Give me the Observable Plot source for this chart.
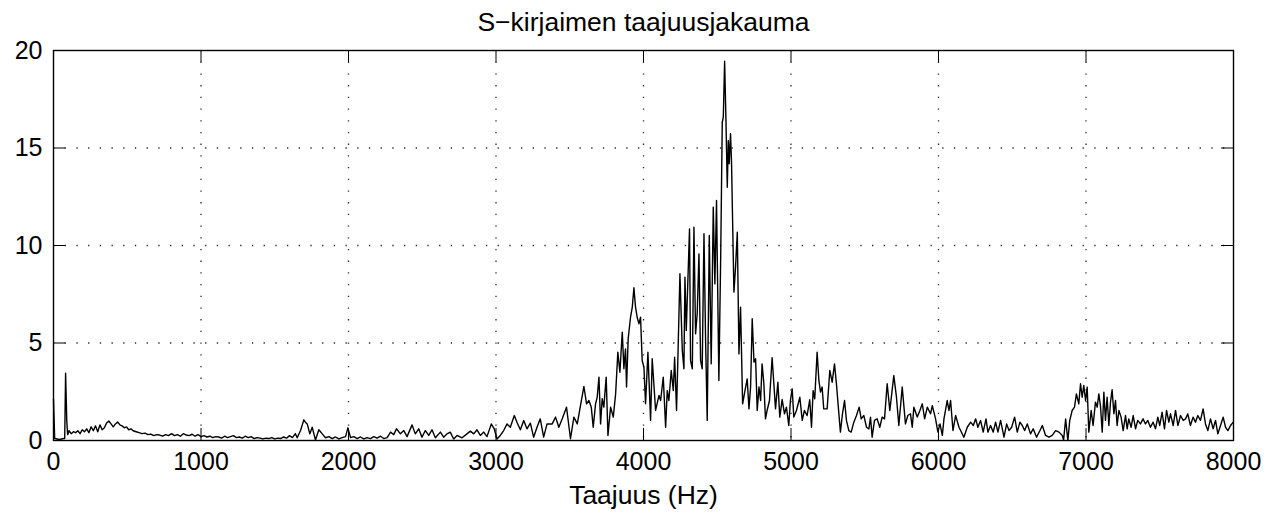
<!DOCTYPE html>
<html>
<head>
<meta charset="utf-8">
<script src="https://cdn.jsdelivr.net/npm/d3@7"></script>
<script src="https://cdn.jsdelivr.net/npm/@observablehq/plot@0.6"></script>
<style>
  html, body { margin: 0; padding: 0; background: #fff; }
  #chart svg { display: block; }
</style>
</head>
<body>
<div id="chart"></div>
<script>
const titleText = "S\u2212kirjaimen taajuusjakauma";
const xLabel = "Taajuus (Hz)";
const xTicks = [0, 1000, 2000, 3000, 4000, 5000, 6000, 7000, 8000];
const yTicks = [0, 5, 10, 15, 20];

const freq = [
  0, 8, 40, 70, 76, 82, 90, 96, 105, 120, 135, 150, 165, 180, 195, 210, 225, 240, 255, 270, 285, 300,
  315, 330, 345, 360, 375, 390, 405, 420, 435, 450, 465, 480, 495, 510, 525, 540, 560, 580, 600, 620,
  640, 660, 680, 700, 720, 740, 760, 780, 800, 820, 840, 860, 880, 900, 920, 940, 960, 980, 1000,
  1020, 1040, 1060, 1080, 1100, 1120, 1140, 1160, 1180, 1200, 1220, 1240, 1260, 1280, 1300, 1320,
  1340, 1360, 1380, 1400, 1420, 1440, 1460, 1480, 1500, 1520, 1540, 1560, 1580, 1600, 1620, 1640,
  1652, 1675, 1697, 1708, 1720, 1738, 1754, 1776, 1799, 1822, 1844, 1867, 1890, 1912, 1935, 1957,
  1980, 1996, 2014, 2036, 2059, 2081, 2104, 2126, 2149, 2172, 2194, 2217, 2239, 2262, 2285, 2307,
  2325, 2352, 2375, 2397, 2431, 2453, 2476, 2498, 2521, 2544, 2566, 2589, 2623, 2645, 2668, 2690,
  2713, 2736, 2770, 2803, 2826, 2849, 2871, 2894, 2917, 2939, 2968, 2988, 3007, 3029, 3052, 3075,
  3097, 3124, 3142, 3165, 3188, 3210, 3233, 3255, 3278, 3300, 3323, 3346, 3368,
  3381, 3404, 3426, 3449, 3478, 3505, 3528, 3551, 3573, 3596, 3614, 3630, 3646, 3659, 3675, 3686,
  3698, 3709, 3720, 3731, 3747, 3759, 3777, 3795, 3811, 3826, 3840, 3856, 3867, 3878, 3885, 3896,
  3912, 3924, 3935, 3946, 3957, 3969, 3980, 3991, 4003, 4014, 4030, 4048,
  4059, 4082, 4105, 4116, 4134, 4150, 4161, 4172, 4188, 4202, 4211, 4224, 4233, 4247, 4263, 4274,
  4281, 4290, 4312, 4319, 4331, 4342, 4353, 4364, 4376, 4387, 4398, 4410, 4421, 4432, 4446, 4459,
  4473, 4484, 4495, 4511, 4523, 4534, 4541, 4550, 4559, 4568, 4575, 4581, 4590, 4597, 4613, 4624,
  4636, 4647, 4658, 4672, 4688, 4703, 4715, 4726, 4737, 4749, 4760, 4771, 4783, 4794,
  4804, 4816, 4827, 4838, 4854, 4872, 4895, 4911, 4924, 4940, 4956, 4969, 4985, 4996, 5008, 5019,
  5037, 5060, 5076, 5091, 5109, 5127, 5139, 5150, 5161, 5177, 5189, 5200, 5211, 5222, 5245, 5263,
  5279, 5295, 5308, 5320, 5335, 5349, 5363, 5376, 5392, 5408, 5426, 5444, 5462, 5476, 5494, 5512,
  5528, 5539, 5550, 5566, 5584, 5602, 5618, 5634, 5652, 5670, 5697, 5715, 5731, 5754, 5776, 5792,
  5810, 5822, 5833, 5856, 5874, 5890, 5906, 5924, 5946, 5958, 5980, 5996, 6010, 6026, 6037, 6059,
  6071, 6082, 6098, 6116, 6139, 6150, 6172, 6195, 6218, 6236, 6252, 6267, 6285, 6303, 6322, 6335,
  6353, 6371, 6387, 6403, 6421, 6444, 6462, 6478, 6496, 6516, 6534, 6552, 6568, 6584, 6602, 6624,
  6642, 6665, 6688, 6704, 6726, 6749, 6771, 6794, 6817, 6839, 6848, 6862, 6877,
  6890, 6906, 6922, 6935, 6951, 6963, 6974, 6985, 6997, 7008, 7019, 7035, 7048, 7064, 7076, 7087,
  7098, 7110, 7121, 7132, 7143, 7155, 7166, 7177, 7189, 7200, 7211, 7223, 7238, 7252, 7268, 7279,
  7290, 7306, 7320, 7336, 7351, 7369, 7387, 7403, 7419, 7437, 7455, 7471, 7487, 7500, 7516, 7532,
  7546, 7562, 7573, 7591, 7607, 7623, 7641, 7659, 7675, 7690, 7708, 7726, 7742, 7758, 7776, 7794,
  7810, 7826, 7844, 7862, 7878, 7894, 7912, 7930, 7946, 7962, 7980, 7998
];

const mag = [
  2.1, 0.1, 0.05, 0.1, 0.1, 3.45, 1.0, 0.3, 0.5, 0.35, 0.45, 0.4, 0.5, 0.35, 0.55, 0.45, 0.6, 0.4, 0.7, 0.5, 0.75, 0.45,
  0.8, 0.55, 0.65, 0.9, 1.0, 0.85, 0.7, 0.85, 0.95, 0.8, 0.75, 0.65, 0.7, 0.55, 0.6, 0.5, 0.45, 0.4, 0.35, 0.38,
  0.3, 0.33, 0.25, 0.3, 0.28, 0.22, 0.3, 0.25, 0.35, 0.25, 0.3, 0.22, 0.35, 0.28, 0.25, 0.32, 0.22, 0.3, 0.2,
  0.25, 0.18, 0.22, 0.15, 0.2, 0.18, 0.12, 0.22, 0.15, 0.2, 0.25, 0.15, 0.18, 0.12, 0.22, 0.15,
  0.2, 0.1, 0.15, 0.12, 0.08, 0.12, 0.1, 0.15, 0.08, 0.12, 0.1, 0.18, 0.12, 0.25, 0.15, 0.35,
  0.14, 0.51, 1.06, 0.94, 0.85, 0.34, 0.68, 0.03, 0.55, 0.34, 0.14, 0.2, 0.1, 0.18, 0.08, 0.15,
  0.2, 0.65, 0.15, 0.2, 0.1, 0.18, 0.08, 0.15, 0.1, 0.2, 0.12, 0.22, 0.1, 0.15, 0.43, 0.3,
  0.6, 0.34, 0.51, 0.2, 0.8, 0.34, 0.6, 0.17, 0.51, 0.26, 0.55, 0.14, 0.43, 0.17, 0.34, 0.43,
  0.08, 0.26, 0.14, 0.34, 0.48, 0.34, 0.55, 0.26, 0.43, 0.2, 0.85, 0.6, 0.08, 0.26, 0.51, 0.85,
  0.68, 1.28, 0.94, 0.55, 1.03, 0.6, 0.89, 0.17, 0.68, 1.11, 0.17, 0.85, 0.85,
  0.85, 1.2, 0.68, 1.11, 1.71, 0.09, 1.2, 0.85, 1.8, 2.77, 1.88, 2.05, 1.71, 0.68, 1.88, 2.22,
  3.25, 0.85, 2.14, 1.71, 3.25, 0.26, 1.71, 1.2, 2.39, 4.53, 3.5, 5.56, 3.68, 4.7, 2.74, 5.21,
  6.32, 6.84, 7.83, 6.84, 6.32, 5.98, 6.32, 4.1, 3.76, 1.88, 4.53, 1.03,
  4.19, 1.54, 2.31, 2.05, 3.25, 0.68, 2.56, 2.05, 3.59, 2.56, 4.27, 1.54, 4.19, 8.55, 4.62, 3.68,
  8.38, 5.64, 10.85, 4.1, 3.68, 10.94, 5.47, 6.5, 9.57, 4.1, 3.68, 10.6, 5.13, 1.03, 10.51, 3.93,
  11.97, 8.03, 12.31, 3.08, 9.23, 16.32, 16.58, 19.45, 16.41, 12.99, 15.38, 14.19, 15.73, 14.19, 7.61, 8.89,
  10.68, 4.44, 6.84, 1.88, 2.56, 3.16, 1.62, 2.74, 6.24, 4.02, 4.19, 1.54, 2.74, 2.05,
  3.93, 2.91, 1.11, 1.54, 2.05, 4.24, 1.62, 2.99, 1.2, 2.1, 1.37, 1.71, 0.77, 2.05, 2.65, 1.2,
  1.54, 2.22, 1.03, 1.54, 1.28, 2.09, 0.68, 2.56, 2.14, 4.53, 3.08, 2.48, 2.74, 1.62, 1.62, 3.59,
  2.99, 3.93, 2.91, 1.79, 0.43, 1.37, 2.05, 1.03, 0.51, 0.43, 0.94, 1.28, 1.71, 1.11, 1.28, 0.68,
  0.6, 1.2, 0.17, 1.03, 1.11, 0.68, 1.2, 1.11, 2.91, 1.54, 3.33, 2.22, 0.77, 2.74, 0.85, 1.28,
  1.37, 0.68, 1.71, 1.2, 1.54, 1.88, 1.11, 1.71, 1.37, 1.79, 1.11, 0.43, 0.85, 0.26, 1.11, 2.05,
  1.54, 2.05, 0.51, 1.28, 0.68, 0.51, 0.17, 0.68, 0.94, 0.77, 1.11, 0.68, 1.03, 0.43, 1.11, 0.43,
  0.77, 0.43, 0.94, 0.43, 1.03, 0.17, 0.85, 0.51, 0.68, 1.2, 0.43, 0.94, 0.77, 0.51, 0.85, 0.34,
  0.6, 0.17, 0.51, 0.77, 0.26, 0.17, 0.26, 0.51, 0.43, 0.26, 0.02, 1.1, 0.0,
  1.03, 1.54, 1.71, 2.39, 1.88, 2.91, 2.22, 2.82, 2.05, 2.74, 0.43, 1.54, 0.77, 1.97, 1.71, 2.39,
  1.79, 0.43, 2.48, 1.03, 2.22, 0.77, 1.97, 2.6, 1.37, 2.05, 0.77, 1.54, 1.2, 0.51, 1.28, 0.6,
  1.11, 0.68, 1.28, 0.6, 1.03, 0.85, 1.11, 0.85, 1.03, 0.68, 0.94, 0.6, 1.2, 0.77, 1.45, 0.6,
  1.54, 0.94, 1.37, 0.77, 1.54, 0.77, 1.28, 1.03, 1.11, 1.37, 0.77, 1.2, 0.94, 1.28, 1.03, 1.62,
  0.85, 0.51, 1.11, 0.6, 1.03, 0.34, 0.77, 1.2, 0.68, 0.51, 0.77, 0.94
];

const data = freq.map((f, i) => ({f, v: mag[i]}));

const W = 1269, H = 513;
const mL = 53, mR = 36, mT = 50, mB = 73;
const frameW = W - mL - mR, frameH = H - mT - mB;
const tickLen = 12;
const font = "'Liberation Sans', Arial, Helvetica, sans-serif";
const fsTick = 25;
const fsText = 26.5;
const gridStyle = {stroke: "#000", strokeWidth: 1.3, strokeDasharray: "1.3,10.4"};

const plot = Plot.plot({
  width: W,
  height: H,
  marginLeft: mL,
  marginRight: mR,
  marginTop: mT,
  marginBottom: mB,
  style: {fontFamily: font, fontSize: fsTick + "px", background: "#fff", color: "#000", overflow: "visible"},
  x: {domain: [0, 8000]},
  y: {domain: [0, 20]},
  marks: [
    Plot.gridX(xTicks.slice(1, -1), {...gridStyle, strokeOpacity: 0.85}),
    Plot.gridY(yTicks.slice(1, -1), {...gridStyle, strokeOpacity: 0.85}),
    Plot.line(data, {x: "f", y: "v", stroke: "#000", strokeWidth: 1.4}),
    Plot.tickX(xTicks, {x: d => d, insetTop: frameH - tickLen, stroke: "#000", strokeWidth: 1}),
    Plot.tickX(xTicks, {x: d => d, insetBottom: frameH - tickLen, stroke: "#000", strokeWidth: 1}),
    Plot.tickY(yTicks, {y: d => d, insetRight: frameW - tickLen, stroke: "#000", strokeWidth: 1}),
    Plot.tickY(yTicks, {y: d => d, insetLeft: frameW - tickLen, stroke: "#000", strokeWidth: 1}),
    Plot.frame({stroke: "#000", strokeWidth: 1.4}),
    Plot.axisX(xTicks, {tickSize: 0, tickPadding: 12, fontSize: fsTick, label: null, tickFormat: d => String(d)}),
    Plot.axisY(yTicks, {tickSize: 0, tickPadding: 11, fontSize: fsTick, label: null, tickFormat: d => String(d)}),
    Plot.text([titleText], {frameAnchor: "top", dy: -28, fontSize: fsText, lineAnchor: "middle", fill: "#000"}),
    Plot.text([xLabel], {frameAnchor: "bottom", dy: 55, fontSize: fsText, lineAnchor: "middle", fill: "#000"})
  ]
});
document.getElementById("chart").appendChild(plot);
</script>
</body>
</html>
